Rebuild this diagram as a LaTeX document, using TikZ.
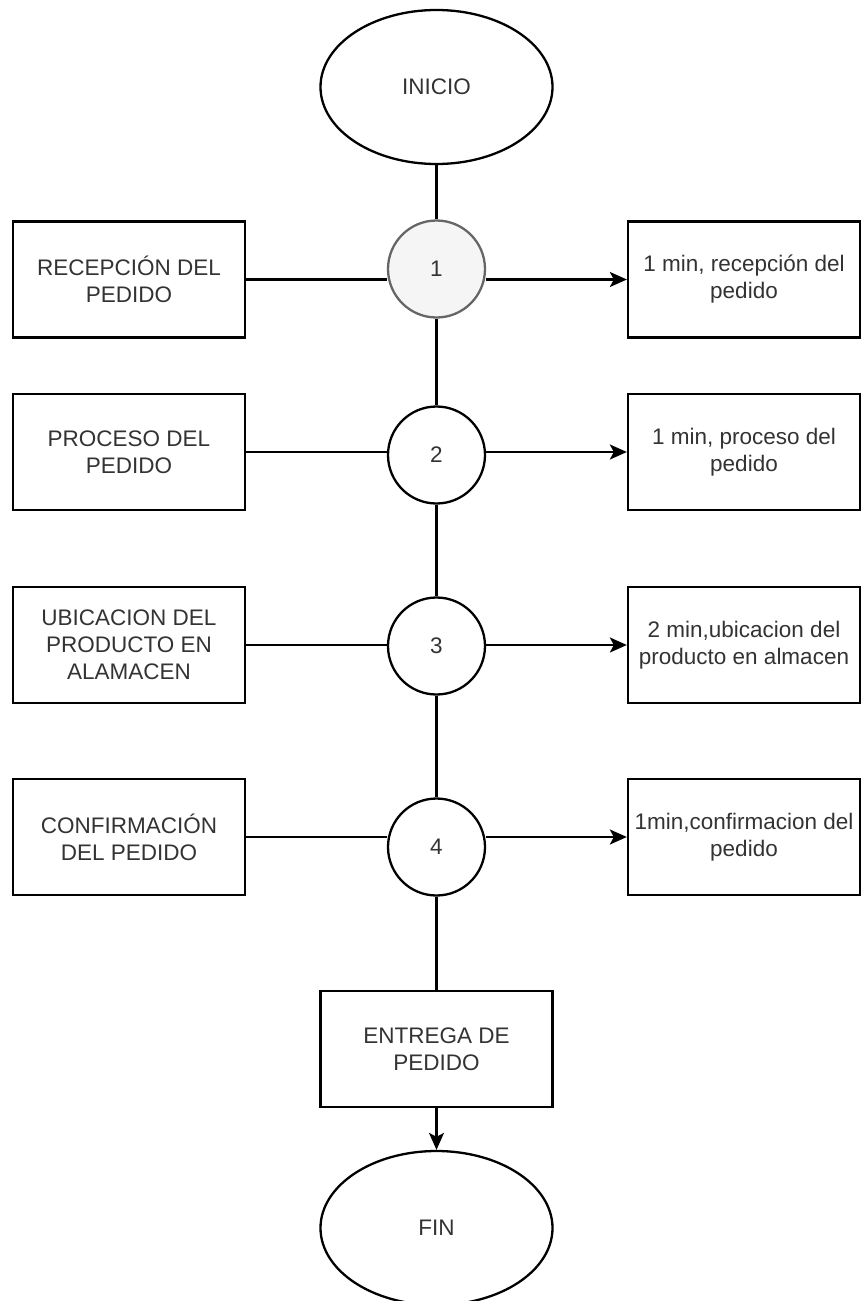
\documentclass[tikz,border=0pt]{standalone}
\usepackage{fontspec}
\setmainfont{Liberation Sans}
\usetikzlibrary{arrows.meta,shapes.geometric}
\definecolor{txt}{HTML}{333333}
\definecolor{gfill}{HTML}{F5F5F5}
\definecolor{gline}{HTML}{666666}
\begin{document}
\begin{tikzpicture}[x=1pt,y=-1pt,
  every node/.style={font=\fontsize{22.5}{27}\selectfont, text=txt, align=center, inner sep=0pt},
  box/.style={draw=black, line width=2.3pt, fill=white, minimum width=232pt, minimum height=116pt},
  term/.style={ellipse, draw=black, line width=2.3pt, fill=white, minimum width=232pt, minimum height=154pt},
  num/.style={circle, draw=black, line width=2.3pt, fill=white, minimum size=97pt},
  conn/.style={line width=2.3pt, draw=black},
  arr/.style={conn, -{Stealth[length=17pt,width=15pt,inset=4pt]}}
]
\useasboundingbox (0,0) rectangle (861,1301);
\node[term] (ini) at (436.5,87) {INICIO};
\node[num, fill=gfill, draw=gline] (c1) at (436.5,269) {1};
\node[num] (c2) at (436.5,455) {2};
\node[num] (c3) at (436.5,646) {3};
\node[num] (c4) at (436.5,847) {4};
\node[box] (l1) at (129,279.5) {RECEPCIÓN DEL\\PEDIDO};
\node[box] (l2) at (129,452) {PROCESO DEL\\PEDIDO};
\node[box] (l3) at (129,645) {UBICACION DEL\\PRODUCTO EN\\ALAMACEN};
\node[box] (l4) at (129,837) {CONFIRMACIÓN\\DEL PEDIDO};
\node[box] (r1) at (744,279.5) {1 min, recepción del\\pedido};
\node[box] (r2) at (744,452) {1 min, proceso del\\pedido};
\node[box] (r3) at (744,645) {2 min,ubicacion del\\producto en almacen};
\node[box] (r4) at (744,837) {1min,confirmacion del\\pedido};
\node[box] (ent) at (436.5,1049) {ENTREGA DE\\PEDIDO};
\node[term] (fin) at (436.5,1228) {FIN};
\draw[conn] (ini.south) -- (c1.north);
\draw[conn] (c1.south) -- (c2.north);
\draw[conn] (c2.south) -- (c3.north);
\draw[conn] (c3.south) -- (c4.north);
\draw[conn] (c4.south) -- (ent.north);
\draw[arr] (ent.south) -- (fin.north);
\foreach \i in {1,2,3,4}{
  \draw[conn] (l\i.east) -- (l\i.east -| c\i.west);
  \draw[arr] (c\i.east |- r\i.west) -- (r\i.west);
}
\end{tikzpicture}
\end{document}
